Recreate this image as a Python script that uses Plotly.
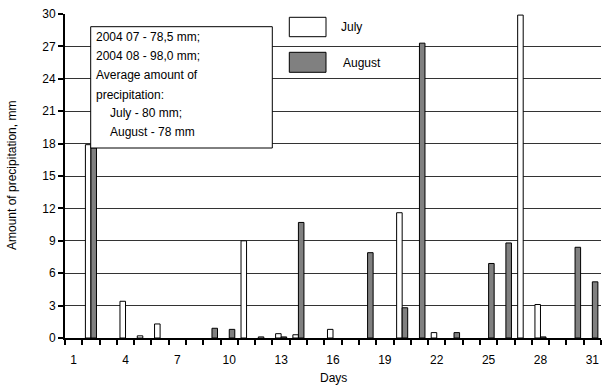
import plotly.graph_objects as go

days = list(range(1, 32))
july = [0, 17.9, 0, 3.4, 0.2, 1.3, 0, 0, 0, 0, 9.0, 0.1, 0.4, 0.3, 0, 0.8, 0, 0, 0, 11.6,
        0, 0.5, 0, 0, 0, 0, 29.9, 3.1, 0, 0, 0]
august = [0, 17.6, 0, 0, 0, 0, 0, 0, 0.9, 0.8, 0, 0, 0.1, 10.7, 0, 0, 0, 7.9, 0, 2.8,
          27.3, 0, 0.5, 0, 6.9, 8.8, 0, 0.1, 0, 8.4, 5.2]
x_tick_days = list(range(1, 32, 3))
y_ticks = list(range(0, 31, 3))

info_lines = [
    ("2004 07 - 78,5 mm;", False),
    ("2004 08 - 98,0 mm;", False),
    ("Average amount of", False),
    ("precipitation:", False),
    ("July - 80 mm;", True),
    ("August - 78 mm", True),
]

FONT = "Liberation Sans, Arial, sans-serif"


def outline_widths(values):
    # no outline for dry days, so empty days stay blank
    return [1 if v > 0 else 0 for v in values]


fig = go.Figure()
fig.add_bar(x=days, y=july, name="July",
            marker=dict(color="white", line=dict(color="black", width=outline_widths(july))))
fig.add_bar(x=days, y=august, name="August",
            marker=dict(color="#808080", line=dict(color="black", width=outline_widths(august))))

# plot area in pixels: x 65..601, y 14..338
L, R, T, B = 65, 601, 14, 338
def px(x):
    return (x - L) / (R - L)
def py(y):
    return (B - y) / (B - T)

shapes = [
    # info box
    dict(type="rect", xref="paper", yref="paper", x0=px(90.7), x1=px(272.3), y0=py(148), y1=py(26.7),
         fillcolor="white", line=dict(color="black", width=1), layer="above"),
    # legend swatches
    dict(type="rect", xref="paper", yref="paper", x0=px(289.3), x1=px(326), y0=py(36.7), y1=py(17.3),
         fillcolor="white", line=dict(color="black", width=1), layer="above"),
    dict(type="rect", xref="paper", yref="paper", x0=px(289.3), x1=px(326), y0=py(72.3), y1=py(52.3),
         fillcolor="#808080", line=dict(color="black", width=1), layer="above"),
]

annotations = []
line_y = [37, 56, 75.5, 94.5, 113, 132]
for (txt, indent), yy in zip(info_lines, line_y):
    annotations.append(dict(text=txt, xref="paper", yref="paper", x=px(108 if indent else 94.3), y=py(yy),
                            xanchor="left", yanchor="middle", showarrow=False,
                            font=dict(family=FONT, size=12, color="black")))
annotations += [
    dict(text="July", xref="paper", yref="paper", x=px(339), y=py(27), xanchor="left", yanchor="middle",
         showarrow=False, font=dict(family=FONT, size=12, color="black")),
    dict(text="August", xref="paper", yref="paper", x=px(341), y=py(63), xanchor="left", yanchor="middle",
         showarrow=False, font=dict(family=FONT, size=12, color="black")),
    dict(text="Days", xref="paper", yref="paper", x=0.5, y=py(378), xanchor="center", yanchor="middle",
         showarrow=False, font=dict(family=FONT, size=12, color="black")),
    dict(text="Amount of precipitation, mm", xref="paper", yref="paper", x=px(12), y=0.5, textangle=-90,
         xanchor="center", yanchor="middle", showarrow=False, font=dict(family=FONT, size=12, color="black")),
]

fig.update_layout(
    width=602, height=388,
    margin=dict(l=L, r=602 - R, t=T, b=388 - B),
    paper_bgcolor="white", plot_bgcolor="white",
    barmode="group", bargap=0.36, bargroupgap=0,
    showlegend=False,
    font=dict(family=FONT, size=12, color="black"),
    shapes=shapes, annotations=annotations,
)
fig.update_xaxes(range=[0.5, 31.5], tickmode="array", tickvals=x_tick_days,
                 ticktext=[str(d) for d in x_tick_days], ticks="", showgrid=False,
                 showline=True, linecolor="black", linewidth=2, zeroline=False,
                 tickfont=dict(size=12), ticklabelstandoff=10,
                 minor=dict(tickmode="linear", tick0=0.5, dtick=1, ticks="outside", ticklen=5,
                            tickcolor="black", tickwidth=2, showgrid=False))
fig.update_yaxes(range=[0, 30], tickmode="array", tickvals=y_ticks, ticks="outside", ticklen=5,
                 tickcolor="black", tickwidth=2, showline=True, linecolor="black", linewidth=2,
                 showgrid=True, gridcolor="#333333", gridwidth=1, zeroline=False,
                 tickfont=dict(size=12))

fig.write_html("out.html")
